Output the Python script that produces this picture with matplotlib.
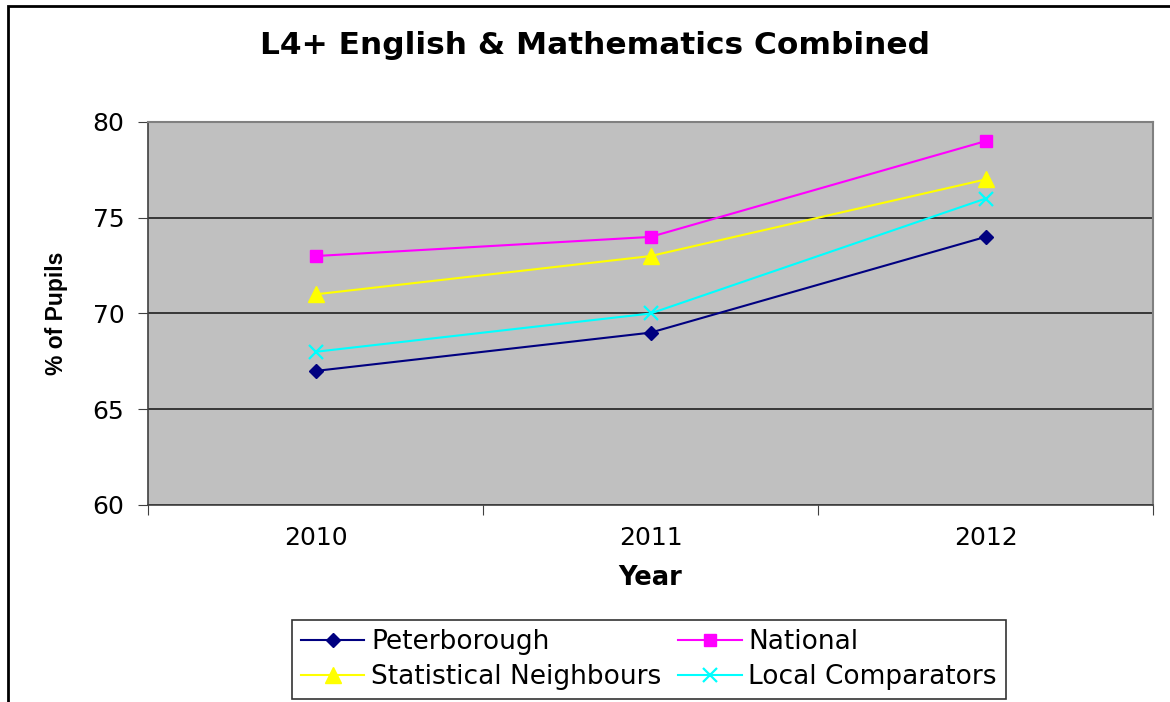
#Recreates the "L4+ English & Mathematics Combined" line chart
import matplotlib
matplotlib.use("Agg")
import matplotlib.pyplot as plt
from matplotlib.patches import Rectangle

plt.rcParams['font.family'] = ['DejaVu Sans']

#Chart data
years = ["2010", "2011", "2012"]
peterborough = [67, 69, 74]
national = [73, 74, 79]
stat_neighbours = [71, 73, 77]
local_comparators = [68, 70, 76]

fig = plt.figure(figsize=(11.7, 7.02), dpi=100)

#Outer chart frame (runs off the right and bottom edge in the original)
fig.patches.append(Rectangle((8 / 1170, -0.1), 1.2, 1.1 - 6 / 702,
                             transform=fig.transFigure, fill=False,
                             edgecolor="black", linewidth=2))

ax = fig.add_axes([148 / 1170, 1 - 505 / 702, (1153 - 148) / 1170, (505 - 122) / 702])
ax.set_facecolor("#C0C0C0")

x = range(len(years))
l1, = ax.plot(x, peterborough, color="#000080", marker="D", markersize=7.5, lw=1.5, label="Peterborough")
l2, = ax.plot(x, national, color="#FF00FF", marker="s", markersize=9, lw=1.5, label="National")
l3, = ax.plot(x, stat_neighbours, color="#FFFF00", marker="^", markersize=11, lw=1.5, label="Statistical Neighbours")
l4, = ax.plot(x, local_comparators, color="#00FFFF", marker="x", markersize=10, mew=1.6, lw=1.5, label="Local Comparators")

ax.set_xlim(-0.5, 2.5)
ax.set_ylim(60, 80)
ax.set_yticks([60, 65, 70, 75, 80])
ax.yaxis.grid(True, color="#202020", lw=1.2)
ax.set_axisbelow(True)

#Category labels in the middle, tick marks on the boundaries
ax.set_xticks([-0.5, 0.5, 1.5, 2.5])
ax.set_xticklabels([])
ax.set_xticks(list(x), minor=True)
ax.set_xticklabels(years, minor=True)
ax.tick_params(axis="x", which="minor", length=0, pad=15, labelsize=18)
ax.tick_params(axis="x", which="major", length=7, direction="out", color="#404040")
ax.tick_params(axis="y", length=7, direction="out", labelsize=18, pad=10, color="#404040")

for side in ["top", "right"]:
    ax.spines[side].set_color("#808080")
    ax.spines[side].set_linewidth(1.5)
for side in ["left", "bottom"]:
    ax.spines[side].set_color("#404040")
    ax.spines[side].set_linewidth(1.2)

ax.set_xlabel("Year", fontsize=18.5, fontweight="bold", labelpad=11)
ax.set_ylabel("% of Pupils", fontsize=16.5, fontweight="bold", labelpad=18,
              family=["Liberation Sans", "DejaVu Sans"])

fig.text(595 / 1170, 1 - 45 / 702, "L4+ English & Mathematics Combined",
         fontsize=22.5, fontweight="bold", ha="center", va="center")

leg = fig.legend(handles=[l1, l3, l2, l4], ncol=2, loc="center",
                 bbox_to_anchor=(649 / 1170, 1 - 659.5 / 702), fontsize=19,
                 frameon=True, fancybox=False, edgecolor="black",
                 handlelength=2.4, columnspacing=0.65, labelspacing=0.35,
                 borderpad=0.35, handletextpad=0.25, borderaxespad=0)
leg.get_frame().set_linewidth(1.2)

fig.savefig("out.png", dpi=100)
